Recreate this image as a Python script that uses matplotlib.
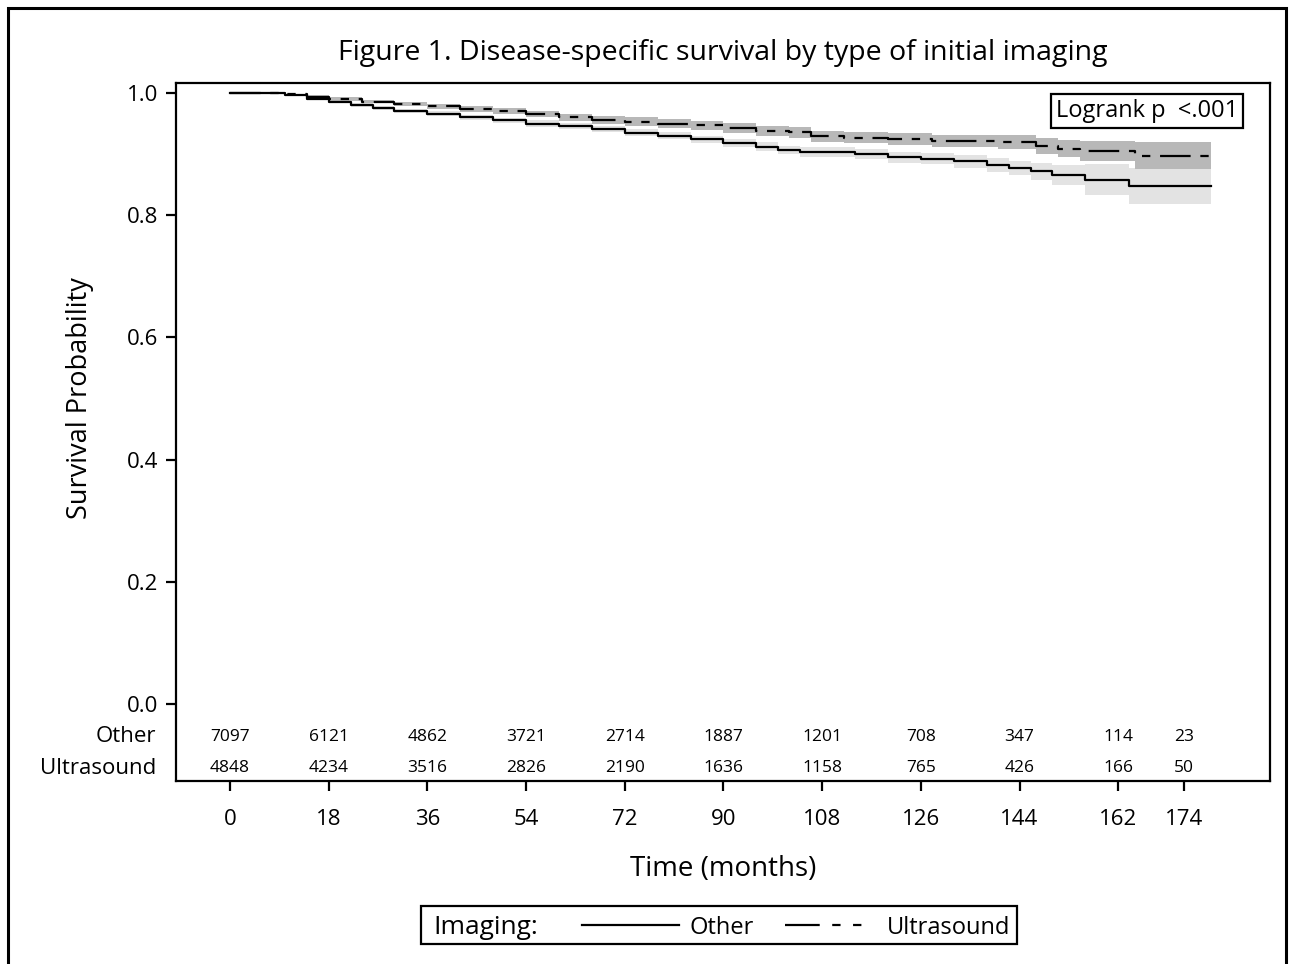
import matplotlib
matplotlib.use("Agg")
import matplotlib.pyplot as plt
from matplotlib.lines import Line2D
from matplotlib.patches import Rectangle
import matplotlib.transforms as mtransforms

plt.rcParams['font.family'] = ['Open Sans', 'DejaVu Sans']
plt.rcParams['lines.scale_dashes'] = False

# ---- data ----
t_other = [0, 10, 14, 18, 22, 26, 30, 36, 42, 48, 54, 60, 66, 72, 78, 84, 90, 96, 100,
           104, 108, 114, 120, 126, 132, 138, 142, 146, 150, 156, 164, 179]
s_other = [1.0, 0.997, 0.990, 0.985, 0.980, 0.975, 0.971, 0.966, 0.960, 0.955, 0.950,
           0.946, 0.941, 0.935, 0.930, 0.924, 0.918, 0.912, 0.907, 0.904, 0.903, 0.900,
           0.895, 0.892, 0.888, 0.882, 0.877, 0.872, 0.866, 0.858, 0.848, 0.848]
hw_other = [0.0, 0.001, 0.002, 0.002, 0.003, 0.003, 0.003, 0.004, 0.004, 0.004, 0.005,
            0.005, 0.005, 0.006, 0.006, 0.006, 0.007, 0.007, 0.007, 0.008, 0.008, 0.008,
            0.009, 0.009, 0.010, 0.011, 0.012, 0.014, 0.016, 0.025, 0.030, 0.030]

t_us = [0, 10, 14, 18, 24, 30, 36, 42, 48, 54, 60, 66, 72, 78, 84, 90, 96, 102, 106,
        112, 120, 128, 140, 147, 151, 155, 165, 179]
s_us = [1.0, 0.998, 0.994, 0.990, 0.986, 0.982, 0.978, 0.974, 0.970, 0.966, 0.960,
        0.956, 0.953, 0.950, 0.947, 0.943, 0.938, 0.936, 0.929, 0.927, 0.925, 0.922,
        0.920, 0.913, 0.909, 0.905, 0.897, 0.897]
hw_us = [0.0, 0.001, 0.002, 0.003, 0.003, 0.004, 0.004, 0.005, 0.005, 0.005, 0.006,
         0.006, 0.007, 0.007, 0.007, 0.008, 0.008, 0.009, 0.009, 0.009, 0.010, 0.010,
         0.011, 0.013, 0.014, 0.016, 0.022, 0.022]

risk_times = [0, 18, 36, 54, 72, 90, 108, 126, 144, 162, 174]
risk_other = [7097, 6121, 4862, 3721, 2714, 1887, 1201, 708, 347, 114, 23]
risk_us = [4848, 4234, 3516, 2826, 2190, 1636, 1158, 765, 426, 166, 50]
groups = ["Other", "Ultrasound"]
yticks = [0.0, 0.2, 0.4, 0.6, 0.8, 1.0]

W, H = 1290, 964
fig = plt.figure(figsize=(W / 100, H / 100), dpi=100)
L, R, T, B = 176, 1270, 83, 781
ax = fig.add_axes([L / W, 1 - B / H, (R - L) / W, (B - T) / H])

x0_px, px_per_m = 230, 5.483
ax.set_xlim((L - x0_px) / px_per_m, (R - x0_px) / px_per_m)
y1_px, y0_px = 93, 704
ppu = y0_px - y1_px
ax.set_ylim(-(B - y0_px) / ppu, 1 + (y1_px - T) / ppu)

lo_o = [s - h for s, h in zip(s_other, hw_other)]
hi_o = [s + h for s, h in zip(s_other, hw_other)]
lo_u = [s - h for s, h in zip(s_us, hw_us)]
hi_u = [s + h for s, h in zip(s_us, hw_us)]
ax.fill_between(t_other, lo_o, hi_o, step='post', color='#e3e3e3', lw=0, zorder=1)
ax.fill_between(t_us, lo_u, hi_u, step='post', color='#b8b8b8', lw=0, zorder=2)
ax.step(t_other, s_other, where='post', color='black', lw=1.6, zorder=3)
ax.step(t_us, s_us, where='post', color='black', lw=1.6, zorder=4,
        dashes=[22, 7, 6, 7, 6, 7])

for sp in ax.spines.values():
    sp.set_linewidth(1.6)
ax.set_yticks(yticks)
ax.set_yticklabels([f"{v:.1f}" for v in yticks])
ax.set_xticks(risk_times)
ax.tick_params(axis='both', direction='out', length=7, width=1.6, labelsize=16)
ax.tick_params(axis='y', pad=6)
ax.tick_params(axis='x', pad=13)

ax.set_xlabel("Time (months)", fontsize=20, labelpad=18)
ax.set_ylabel("Survival Probability", fontsize=19.5)
ax.yaxis.set_label_coords(-(L - 94) / (R - L), (B - 398) / (B - T), transform=ax.transAxes)

# at-risk table
y_o = (y0_px - 737) / ppu
y_u = (y0_px - 768) / ppu
blend = mtransforms.blended_transform_factory(ax.transAxes, ax.transData)
for t, a, b in zip(risk_times, risk_other, risk_us):
    ax.text(t, y_o, str(a), ha='center', va='center', fontsize=12.5)
    ax.text(t, y_u, str(b), ha='center', va='center', fontsize=12.5)
for g, yy in zip(groups, [y_o, y_u]):
    ax.text(-(L - 156) / (R - L), yy, g, transform=blend, ha='right', va='center',
            fontsize=16)

# logrank box
ax.text((1147 - L) / (R - L), (B - 111) / (B - T), "Logrank p  <.001",
        transform=ax.transAxes, ha='center', va='center', fontsize=17,
        bbox=dict(boxstyle='square,pad=0.2', fc='white', ec='black', lw=1.6), zorder=6)

# title
fig.text((L + R) / 2 / W, 1 - 53 / H, "Figure 1. Disease-specific survival by type of initial imaging",
         ha='center', va='center', fontsize=20.5)

# legend (manual)
fig.patches.append(Rectangle((421 / W, 1 - 944 / H), (1017 - 421) / W, (944 - 906) / H,
                             transform=fig.transFigure, fill=False, ec='black', lw=1.6))
ly = 1 - 925 / H
lty = 1 - 928 / H
fig.text(433 / W, lty, "Imaging:", ha='left', va='center', fontsize=19)
fig.lines.append(Line2D([582 / W, 679 / W], [ly, ly], transform=fig.transFigure,
                        color='black', lw=1.6))
fig.text(690 / W, lty, "Other", ha='left', va='center', fontsize=17)
fig.lines.append(Line2D([785 / W, 870 / W], [ly, ly], transform=fig.transFigure,
                        color='black', lw=1.6, dashes=[25, 9, 6, 9, 6, 9]))
fig.text(887 / W, lty, "Ultrasound", ha='left', va='center', fontsize=17)

# outer border
fig.patches.append(Rectangle((8 / W, -0.05), (1286 - 8) / W, 1.05 - 8 / H,
                             transform=fig.transFigure, fill=False, ec='black', lw=2.2))

fig.savefig("out.png", dpi=100, facecolor='white')
